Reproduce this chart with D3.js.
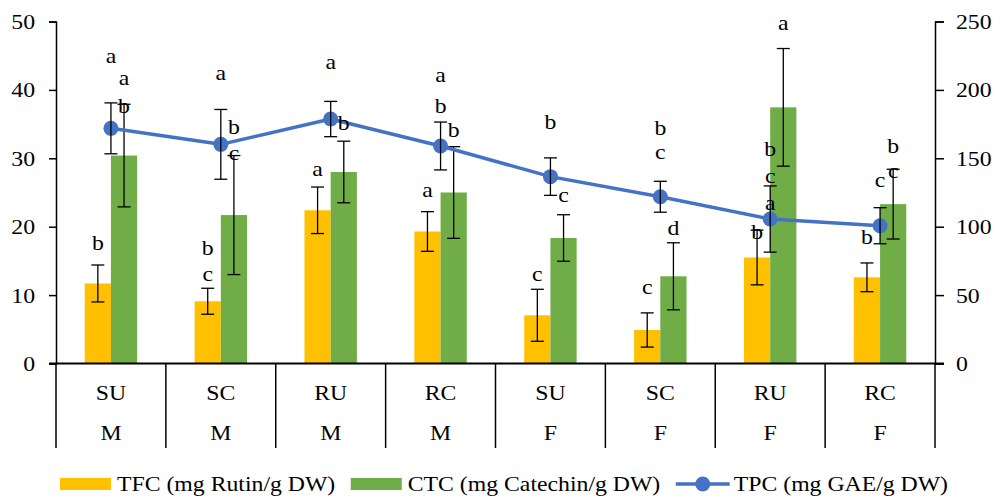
<!DOCTYPE html>
<html>
<head>
<meta charset="utf-8">
<script src="https://cdn.jsdelivr.net/npm/d3@7"></script>
<style>
  html, body { margin: 0; padding: 0; background: #fff; }
  svg { display: block; }
</style>
</head>
<body>
<svg id="chart" width="1000" height="502"></svg>
<script>
// ---- data ----
const categories = ["SU", "SC", "RU", "RC", "SU", "SC", "RU", "RC"];
const sexes = ["M", "M", "M", "M", "F", "F", "F", "F"];
const tfc = [11.7, 9.1, 22.4, 19.3, 7.05, 4.9, 15.5, 12.6];
const tfcErr = [2.7, 1.9, 3.4, 2.9, 3.8, 2.5, 4.0, 2.1];
const ctc = [30.4, 21.7, 28.0, 25.0, 18.35, 12.75, 37.45, 23.3];
const ctcErr = [7.5, 8.7, 4.5, 6.7, 3.4, 4.9, 8.6, 5.1];
const tpc = [171.9, 160.2, 178.7, 159.0, 136.6, 121.9, 105.6, 100.7];
const tpcErr = [18.6, 25.5, 12.9, 17.5, 13.7, 11.3, 24.2, 13.2];
const leftTicks = [0, 10, 20, 30, 40, 50];
const rightTicks = [0, 50, 100, 150, 200, 250];
const seriesNames = ["TFC (mg Rutin/g DW)", "CTC (mg Catechin/g DW)", "TPC (mg GAE/g DW)"];
// significance letters: group index, series anchor, value on left axis
const letters = [
  {g:0, s:"tpc", v:44.66, t:"a"}, {g:0, s:"ctc", v:41.45, t:"a"}, {g:0, s:"ctc", v:37.79, t:"b"}, {g:0, s:"tfc", v:17.62, t:"b"},
  {g:1, s:"tpc", v:42.18, t:"a"}, {g:1, s:"ctc", v:34.58, t:"b"}, {g:1, s:"ctc", v:30.48, t:"c"}, {g:1, s:"tfc", v:17.03, t:"b"}, {g:1, s:"tfc", v:12.79, t:"c"},
  {g:2, s:"tpc", v:43.79, t:"a"}, {g:2, s:"ctc", v:35.16, t:"b"}, {g:2, s:"tfc", v:28.14, t:"a"},
  {g:3, s:"tpc", v:41.89, t:"a"}, {g:3, s:"tpc", v:37.79, t:"b"}, {g:3, s:"ctc", v:34.14, t:"b"}, {g:3, s:"tfc", v:25.07, t:"a"},
  {g:4, s:"tpc", v:35.45, t:"b"}, {g:4, s:"ctc", v:24.34, t:"c"}, {g:4, s:"tfc", v:12.79, t:"c"},
  {g:5, s:"tpc", v:34.43, t:"b"}, {g:5, s:"tpc", v:30.63, t:"c"}, {g:5, s:"ctc", v:19.81, t:"d"}, {g:5, s:"tfc", v:10.89, t:"c"},
  {g:6, s:"ctc", v:49.49, t:"a"}, {g:6, s:"tpc", v:31.36, t:"b"}, {g:6, s:"tpc", v:27.12, t:"c"}, {g:6, s:"tpc", v:23.17, t:"a"}, {g:6, s:"tfc", v:19.23, t:"b"},
  {g:7, s:"ctc", v:31.94, t:"b"}, {g:7, s:"ctc", v:27.85, t:"c"}, {g:7, s:"tpc", v:26.54, t:"c"}, {g:7, s:"tfc", v:18.50, t:"b"}
];

// ---- layout ----
const colors = { tfc: "#FFC000", ctc: "#70AD47", tpc: "#4472C4" };
const FS = 22;
const SX = 1.08; // horizontal stretch of the original rendering
const FONT = "'Liberation Serif', Tinos, 'Times New Roman', Times, 'Nimbus Roman', 'DejaVu Serif', serif";
const svg = d3.select("#chart").attr("font-family", FONT);
const plotL = 56, plotR = 935, plotT = 21.5, plotB = 363.5;

// place a text element at (px,py) with horizontal stretch
function placeText(sel, px, py) {
  sel.attr("x", 0).attr("y", 0)
    .attr("transform", (d, i, n) => `translate(${typeof px === "function" ? px(d, i, n) : px},${typeof py === "function" ? py(d, i, n) : py}) scale(${SX},1)`)
    .attr("font-size", FS).attr("font-family", FONT).attr("fill", "#000");
  return sel;
}

const x = d3.scaleBand().domain(d3.range(categories.length)).range([plotL, plotR]).paddingInner(0).paddingOuter(0);
const bw = x.bandwidth();
const barW = bw * 0.2385;
const xs = d3.scaleBand().domain(["tfc", "ctc"]).range([-barW, barW]);
const yL = d3.scaleLinear().domain([0, 50]).range([plotB, plotT]);
const yR = d3.scaleLinear().domain([0, 250]).range([plotB, plotT]);
const cx = i => x(i) + bw / 2;
const anchorX = (i, s) => s === "tpc" ? cx(i) : cx(i) + xs(s) + barW / 2;

// bars
const barData = [];
categories.forEach((c, i) => {
  barData.push({i, s: "tfc", v: tfc[i], e: tfcErr[i]});
  barData.push({i, s: "ctc", v: ctc[i], e: ctcErr[i]});
});
svg.append("g").selectAll("rect").data(barData).join("rect")
  .attr("x", d => cx(d.i) + xs(d.s))
  .attr("y", d => yL(d.v))
  .attr("width", barW)
  .attr("height", d => yL(0) - yL(d.v))
  .attr("fill", d => colors[d.s]);

// bar error bars
const cap = 6.5;
const eg = svg.append("g").attr("stroke", "#000").attr("stroke-width", 1.3).attr("fill", "none");
function errBar(g, px, yTop, yBot) {
  g.append("line").attr("x1", px).attr("x2", px).attr("y1", yTop).attr("y2", yBot);
  g.append("line").attr("x1", px - cap).attr("x2", px + cap).attr("y1", yTop).attr("y2", yTop);
  g.append("line").attr("x1", px - cap).attr("x2", px + cap).attr("y1", yBot).attr("y2", yBot);
}
barData.forEach(d => errBar(eg, anchorX(d.i, d.s), yL(d.v + d.e), yL(d.v - d.e)));

// TPC line
const line = d3.line().x((d, i) => cx(i)).y(d => yR(d));
svg.append("path").datum(tpc).attr("d", line)
  .attr("fill", "none").attr("stroke", colors.tpc).attr("stroke-width", 3.5).attr("stroke-linejoin", "round");
svg.append("g").selectAll("circle").data(tpc).join("circle")
  .attr("cx", (d, i) => cx(i)).attr("cy", d => yR(d)).attr("r", 7.5).attr("fill", colors.tpc);
const eg2 = svg.append("g").attr("stroke", "#000").attr("stroke-width", 1.3).attr("fill", "none");
tpc.forEach((v, i) => errBar(eg2, cx(i), yR(v + tpcErr[i]), yR(v - tpcErr[i])));

// letters
placeText(svg.append("g").selectAll("text").data(letters).join("text"),
    d => anchorX(d.g, d.s), d => yL(d.v))
  .attr("dy", d => (d.t === "b" || d.t === "d") ? "0.34em" : "0.23em")
  .attr("text-anchor", "middle")
  .text(d => d.t);

// axes
const axL = svg.append("g").attr("transform", `translate(${plotL},0)`)
  .call(d3.axisLeft(yL).tickValues(leftTicks).tickSize(7).tickPadding(14).tickFormat(d3.format("d")));
const axR = svg.append("g").attr("transform", `translate(${plotR},0)`)
  .call(d3.axisRight(yR).tickValues(rightTicks).tickSize(9).tickPadding(12).tickFormat(d3.format("d")));
[axL, axR].forEach(a => {
  a.attr("font-family", FONT).attr("font-size", FS);
  a.select(".domain").attr("stroke", "#000").attr("stroke-width", 1.5);
  a.selectAll(".tick line").attr("stroke", "#000").attr("stroke-width", 1.5);
  a.selectAll(".tick text").each(function () {
    const t = d3.select(this);
    const tx = +t.attr("x");
    placeText(t, tx, 0);
  });
});

// x axis with category groups
const xg = svg.append("g").attr("font-family", FONT);
xg.append("line").attr("x1", plotL - 7).attr("x2", plotR + 9).attr("y1", plotB).attr("y2", plotB)
  .attr("stroke", "#000").attr("stroke-width", 2.2);
const seps = d3.range(categories.length + 1).map(i => i < categories.length ? x(i) : x(categories.length - 1) + bw);
xg.selectAll("line.sep").data(seps).join("line").attr("class", "sep")
  .attr("x1", d => d).attr("x2", d => d).attr("y1", plotB).attr("y2", 448)
  .attr("stroke", "#000").attr("stroke-width", 1.5);
placeText(xg.selectAll("text.cat").data(categories).join("text").attr("class", "cat"), (d, i) => cx(i), 392)
  .attr("dy", "0.36em").attr("text-anchor", "middle").text(d => d);
placeText(xg.selectAll("text.sex").data(sexes).join("text").attr("class", "sex"), (d, i) => cx(i), 432)
  .attr("dy", "0.36em").attr("text-anchor", "middle").text(d => d);

// legend
const lg = svg.append("g").attr("font-family", FONT);
const ly = 484;
let lx = 60;
const keys = ["tfc", "ctc", "tpc"];
keys.forEach((k, idx) => {
  let tx;
  if (k === "tpc") {
    lg.append("line").attr("x1", lx).attr("x2", lx + 54).attr("y1", ly).attr("y2", ly)
      .attr("stroke", colors.tpc).attr("stroke-width", 3.5);
    lg.append("circle").attr("cx", lx + 27).attr("cy", ly).attr("r", 7.5).attr("fill", colors.tpc);
    tx = lx + 58;
  } else {
    lg.append("rect").attr("x", lx).attr("y", ly - 6).attr("width", 51).attr("height", 12).attr("fill", colors[k]);
    tx = lx + 57;
  }
  const t = placeText(lg.append("text"), tx, ly).attr("dy", "0.33em").text(seriesNames[idx]);
  lx = tx + t.node().getComputedTextLength() * SX + 15.5;
});
</script>
</body>
</html>
